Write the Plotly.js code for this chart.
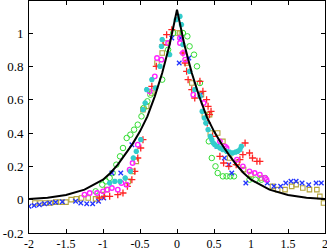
<!DOCTYPE html>
<html><head><meta charset="utf-8">
<script src="https://cdn.plot.ly/plotly-3.0.1.min.js"></script>
<style>html,body{margin:0;padding:0;background:#fff}#chart{width:327px;height:250px}</style>
</head><body><div id="chart"></div>
<script>
// Model curve
const curveX = [-2,-1.75,-1.5,-1.25,-1,-0.9,-0.8,-0.7,-0.6,-0.5,-0.4,-0.3,-0.2,-0.1,0,0.1,0.2,0.3,0.4,0.5,0.6,0.7,0.8,0.9,1,1.25,1.5,1.75,2];
const curveY = [0.004,0.012,0.028,0.06,0.12,0.16,0.21,0.27,0.335,0.41,0.50,0.62,0.76,0.93,1.14,0.93,0.76,0.62,0.50,0.41,0.335,0.27,0.21,0.16,0.12,0.06,0.028,0.012,0.004];

// Blue x
const blueX = [-2.0,-1.93,-1.86,-1.79,-1.72,-1.64,-1.55,-1.37,-1.3,-1.22,-1.14,-1.06,-0.99,-0.88,-0.76,-0.61,-0.07,0.05,0.03,0.16,0.32,0.54,0.64,0.7,0.74,0.93,1.22,1.31,1.4,1.47,1.54,1.61,1.69,1.78,1.88,1.95];
const blueY = [-0.04,-0.035,-0.03,-0.025,-0.02,-0.015,-0.012,-0.01,-0.02,-0.025,-0.025,-0.01,0.01,0.16,0.16,0.33,0.97,0.97,0.82,0.85,0.63,0.32,0.25,0.21,0.16,0.10,0.10,0.08,0.08,0.10,0.11,0.11,0.10,0.09,0.10,0.10];

// Green circles
const greenX = [-1.1,-1.01,-0.96,-0.91,-0.87,-0.82,-0.77,-0.73,-0.68,-0.63,-0.58,-0.53,-0.48,-0.45,-0.40,-0.36,-0.2,-0.12,-0.05,0.08,0.14,0.17,0.23,0.27,0.31,0.43,0.47,0.52,0.55,0.62,0.67,0.72,0.77,0.98,1.06,1.14,1.19];
const greenY = [0.05,0.09,0.11,0.13,0.16,0.21,0.26,0.31,0.37,0.39,0.42,0.45,0.50,0.55,0.59,0.63,0.72,0.90,1.0,1.0,0.98,0.92,0.87,0.80,0.70,0.35,0.25,0.20,0.16,0.14,0.14,0.14,0.14,0.12,0.12,0.12,0.13];

// Cyan stars
const cyanX = [-0.91,-0.84,-0.77,-0.70,-0.63,-0.59,-0.55,-0.49,-0.46,-0.43,-0.41,-0.34,-0.29,-0.23,-0.21,-0.2,-0.1,-0.01,0.04,0.06,0.08,0.17,0.24,0.31,0.34,0.37,0.39,0.42,0.45,0.47,0.49,0.51,0.54,0.58,0.62,0.67,0.71,0.75,0.79,0.82,0.85,0.87];
const cyanY = [0.10,0.11,0.11,0.13,0.17,0.25,0.29,0.36,0.54,0.58,0.66,0.72,0.67,0.80,0.92,0.96,0.87,1.08,1.10,1.05,0.93,0.77,0.66,0.62,0.53,0.49,0.46,0.42,0.38,0.36,0.34,0.33,0.32,0.31,0.30,0.29,0.285,0.28,0.285,0.29,0.30,0.32];

// Red plus
const redX = [-1.05,-0.98,-0.91,-0.80,-0.73,-0.67,-0.61,-0.57,-0.53,-0.49,-0.46,-0.34,-0.28,-0.19,-0.14,-0.07,0.08,0.11,0.13,0.15,0.2,0.24,0.31,0.35,0.4,0.41,0.42,0.44,0.46,0.48,0.58,0.63,0.7,0.8,0.85,0.89,0.92,0.98,1.02,1.08,1.12];
const redY = [0.01,0.02,0.02,0.03,0.04,0.08,0.12,0.17,0.25,0.31,0.36,0.68,0.80,0.93,0.99,1.02,0.88,0.82,0.77,0.72,0.66,0.61,0.71,0.65,0.60,0.46,0.56,0.51,0.53,0.38,0.26,0.22,0.20,0.21,0.24,0.27,0.34,0.28,0.25,0.23,0.23];

// Magenta circles
const magX = [-1.25,-1.18,-1.08,-1.0,-0.94,-0.88,-0.80,-0.75,-0.68,-0.64,-0.60,-0.53,-0.37,-0.30,-0.27,-0.21,-0.12,0.04,0.04,0.08,0.11,0.22,0.36,0.58,0.65,0.67,0.81,0.89,0.98,1.05,1.12,1.19,1.21];
const magY = [0.03,0.04,0.04,0.05,0.06,0.07,0.06,0.10,0.09,0.18,0.22,0.33,0.65,0.74,0.85,0.84,0.94,0.97,0.94,0.88,0.84,0.63,0.58,0.35,0.32,0.31,0.24,0.20,0.17,0.16,0.15,0.13,0.12];

// Olive squares
const sqX = [-1.92,-1.85,-1.78,-1.71,-1.64,-1.57,-1.5,-1.43,-1.36,-1.29,-1.2,-1.1,-1.02,-0.95,-0.66,-0.6,-0.55,-0.46,-0.41,-0.34,-0.27,-0.2,-0.15,0.01,0.04,0.13,0.2,0.33,0.37,0.44,0.45,0.55,0.62,0.71,0.81,0.9,1.0,1.14,1.29,1.36,1.46,1.55,1.61,1.7,1.79,1.89,1.93,1.98];
const sqY = [-0.02,-0.02,-0.02,-0.02,-0.015,-0.015,-0.015,0.0,0.005,0.01,0.01,0.005,0.03,0.06,0.11,0.17,0.23,0.54,0.56,0.64,0.82,0.88,0.94,1.0,1.0,0.82,0.70,0.63,0.51,0.51,0.40,0.40,0.35,0.25,0.22,0.18,0.15,0.13,0.08,0.06,0.06,0.08,0.09,0.07,0.06,0.06,0.02,-0.02];

const xTicks = [-2,-1.5,-1,-0.5,0,0.5,1,1.5,2];
const yTicks = [-0.2,0,0.2,0.4,0.6,0.8,1];

function mk(x, y, color, symbol, size, lw) {
  return {x: x, y: y, type: 'scatter', mode: 'markers', hoverinfo: 'skip', cliponaxis: true,
    marker: {color: color, symbol: symbol, size: size, line: {color: color, width: lw}}};
}

const data = [
  mk(sqX, sqY, '#b4a43c', 'square-open', 4.5, 1.1),
  mk(greenX, greenY, '#33dd33', 'circle-open', 5.5, 1),
  mk(blueX, blueY, '#2233ff', 'x-thin-open', 4.5, 1.3),
  mk(redX, redY, '#ff2222', 'cross-thin-open', 5, 1.3),
  mk(magX, magY, '#ff22ff', 'circle-open', 4.5, 1.4),
  mk(cyanX, cyanY, '#33cccc', 'asterisk-open', 4.5, 1.8),
  {x: curveX, y: curveY, type: 'scatter', mode: 'lines', hoverinfo: 'skip',
   line: {color: '#000', width: 2}}
];

const axisCommon = {
  showgrid: false, zeroline: false, showline: true, linecolor: '#000', linewidth: 1,
  mirror: 'ticks', ticks: 'inside', ticklen: 4, tickcolor: '#000', tickwidth: 1,
  ticklabeloverflow: 'allow'
};
const tickFont = {family: 'Liberation Serif, Times New Roman, serif', color: '#000'};

const layout = {
  width: 327, height: 250,
  margin: {l: 29, r: 2, t: 1, b: 17},
  paper_bgcolor: '#fff', plot_bgcolor: '#fff',
  showlegend: false,
  xaxis: Object.assign({}, axisCommon, {range: [-2, 2], tickmode: 'array', tickvals: xTicks, ticktext: xTicks.map(String), ticklabelstandoff: 0,
    tickfont: Object.assign({size: 12}, tickFont)}),
  yaxis: Object.assign({}, axisCommon, {range: [-0.2, 1.192], tickmode: 'array', tickvals: yTicks, ticktext: yTicks.map(String), ticklabelstandoff: 2,
    tickfont: Object.assign({size: 13}, tickFont)})
};

Plotly.newPlot('chart', data, layout, {staticPlot: true, displayModeBar: false});
</script>
</body></html>
